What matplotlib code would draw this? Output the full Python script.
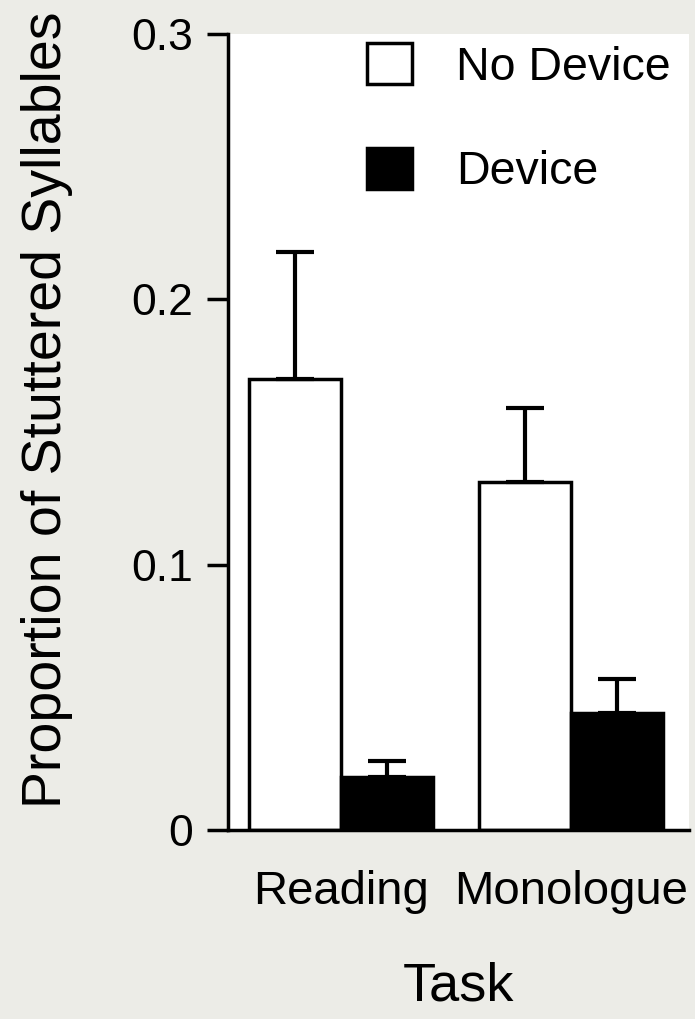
import numpy as np
from matplotlib import pyplot as plt

plt.rcParams['font.family'] = ['Liberation Sans', 'DejaVu Sans']

tasks = ["Reading", "Monologue"]
no_device = [0.170, 0.131]
no_device_err = [0.048, 0.028]
device = [0.020, 0.044]
device_err = [0.006, 0.013]
yticks = [0, 0.1, 0.2, 0.3]
ytick_labels = ["0", "0.1", "0.2", "0.3"]

fig = plt.figure(figsize=(6.95, 10.19), dpi=100)
fig.patch.set_facecolor('#ecece7')
ax = fig.add_axes([0.328, 0.1855, 0.663, 0.781])
ax.set_facecolor('white')

x = np.arange(len(tasks))
w = 0.4
err_kw = dict(ecolor='black', elinewidth=3, capsize=14, capthick=3)
ax.bar(x - 0.2, no_device, w, color='white', edgecolor='black', linewidth=2.5,
       yerr=[np.zeros(2), no_device_err], error_kw=err_kw, label='No Device')
ax.bar(x + 0.2, device, w, color='black', edgecolor='black', linewidth=2.5,
       yerr=[np.zeros(2), device_err], error_kw=err_kw, label='Device')

ax.set_xlim(-0.491, 1.513)
ax.set_ylim(0, 0.3)
ax.set_yticks(yticks)
ax.set_yticklabels(ytick_labels)
ax.set_xticks(x)
ax.set_xticklabels(tasks)

for s in ['top', 'right']:
    ax.spines[s].set_visible(False)
ax.spines['left'].set_linewidth(2.5)
ax.spines['bottom'].set_linewidth(2.5)
ax.tick_params(axis='y', length=15, width=2.5, pad=10, labelsize=32)
ax.tick_params(axis='x', length=0, pad=29, labelsize=34)

ax.set_ylabel('Proportion of Stuttered Syllables', fontsize=40)
ax.yaxis.set_label_coords(-0.336, 0.528)
ax.set_xlabel('Task', fontsize=39, labelpad=34)

ax.legend(loc='upper left', bbox_to_anchor=(0.291, 0.995), frameon=False,
          fontsize=33.5, handlelength=0.97, handleheight=1.0,
          handletextpad=0.95, labelspacing=1.25, borderpad=0.1, borderaxespad=0)

plt.savefig('out.png', dpi=100, facecolor=fig.get_facecolor())
